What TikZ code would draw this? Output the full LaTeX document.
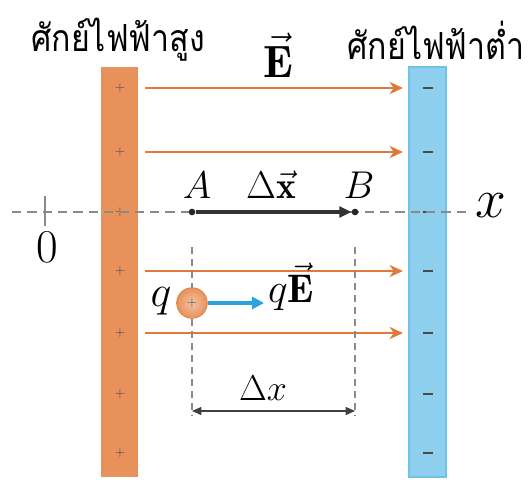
\documentclass[tikz,border=0pt]{standalone}
\usepackage{fontspec}
\newfontfamily\thaifont[Script=Thai,FakeStretch=0.86]{Loma}
\usetikzlibrary{arrows.meta,fit}
\newcommand\biglbl[2]{\scalebox{\fpeval{#1/20}}{\fontsize{20}{20}\selectfont$#2$}}
\definecolor{plateor}{HTML}{E8915A}
\definecolor{arrowor}{HTML}{E07A3A}
\definecolor{plateblue}{HTML}{8ECFEE}
\definecolor{plateblueedge}{HTML}{6EC3EA}
\definecolor{forceblue}{HTML}{2BA3DE}
\definecolor{axisgray}{HTML}{8A8A8A}
\definecolor{signgray}{HTML}{4A4A4A}
\tikzset{
  plate/.style={inner sep=0pt, outer sep=0pt},
  plussign/.style={text=signgray, font=\fontsize{10}{10}\selectfont, inner sep=0pt},
  minussign/.style={fill=signgray, minimum width=7pt, minimum height=1.8pt, inner sep=0pt},
  fieldarrow/.style={draw=arrowor, line width=2.2pt, -{Stealth[length=10pt,width=9pt,inset=3pt]}},
  axisline/.style={draw=axisgray, line width=1.2pt, dash pattern=on 7pt off 4.5pt},
  guide/.style={draw=axisgray, line width=0.9pt, dash pattern=on 5pt off 4pt},
  disparrow/.style={draw=black!80, line width=2.6pt, -{Triangle[length=9pt,width=8pt]}},
  spanarrow/.style={draw=black!75, line width=1pt, {Triangle[length=7pt,width=6pt]}-{Triangle[length=7pt,width=6pt]}},
  forcearrow/.style={draw=forceblue, line width=2.6pt, -{Triangle[length=9pt,width=9pt]}},
  thailabel/.style={font=\thaifont\fontsize{28}{32}\selectfont, inner sep=0pt},
  lab/.style={inner sep=0pt, anchor=base},
  dot/.style={circle, fill=black!85, minimum size=5pt, inner sep=0pt},
}
\begin{document}
\begin{tikzpicture}[x=0.75pt,y=-0.75pt]
\useasboundingbox (0,0) rectangle (528,479);
% plates
\node[plate, fill=plateor, fit={(101,67) (138,477)}] (lplate) {};
\node[plate, fill=plateblue, draw=plateblueedge, line width=1pt, fit={(409,67) (446,477)}] (rplate) {};
\foreach \y [count=\i] in {88,152,212,271,333,394,453} {
  \node[plussign] (p\i) at (120,\y) {+};
  \node[minussign] (m\i) at (428,\y) {};
}
% top labels
\node[thailabel] (high) at (118,40) {ศักย์ไฟฟ้าสูง};
\node[thailabel] (low) at (436,40) {ศักย์ไฟฟ้าต่ำ};
\node[lab] (Elab) at (278,77) {\biglbl{34}{\vec{\mathbf{E}}}};
% field arrows
\foreach \y/\n in {88/1,152/2,271/3,333/4} {
  \coordinate (fs\n) at (145,\y);
  \coordinate (fe\n) at (403,\y);
  \draw[fieldarrow] (fs\n) -- (fe\n);
}
% x axis
\coordinate (axl) at (12,212);
\coordinate (axr) at (472,212);
\draw[axisline] (axl) -- (axr);
\node[lab] (xlab) at (491,217) {\biglbl{40}{x}};
\coordinate (tickt) at (45,196);
\coordinate (tickb) at (45,226);
\draw[draw=axisgray, line width=1.2pt] (tickt) -- (tickb);
\node[lab] (zero) at (47,262) {\biglbl{34}{0}};
% A and B
\node[dot] (A) at (192,212) {};
\node[dot] (B) at (355,212) {};
\draw[disparrow] (A) -- (B.west);
\node[lab] (Alab) at (197,198) {\biglbl{28}{A}};
\node[lab] (Blab) at (359,198) {\biglbl{28}{B}};
\node[lab] (dxvec) at (271,198) {\biglbl{28}{\Delta\vec{\mathbf{x}}}};
% guides
\coordinate (ga1) at (192,247);
\coordinate (ga2) at (192,416);
\coordinate (gb1) at (355,247);
\coordinate (gb2) at (355,416);
\draw[guide] (ga1) -- (ga2);
\draw[guide] (gb1) -- (gb2);
% charge
\node[circle, minimum size=23pt, inner sep=0pt, inner color=plateor!55!white, outer color=plateor, draw=arrowor, line width=0.5pt] (q) at (192,303) {};
\node[plussign] (qplus) at (q) {+};
\coordinate (ftip) at (264,303);
\draw[forcearrow] (q.east) -- (ftip);
\node[lab] (qlab) at (161,306) {\biglbl{32}{q}};
\node[lab] (qElab) at (291,302) {\biglbl{30}{q\vec{\mathbf{E}}}};
% span
\coordinate (sa) at (192,411);
\coordinate (sb) at (355,411);
\draw[spanarrow] (sa) -- (sb);
\node[lab] (dxlab) at (263,400) {\biglbl{26}{\Delta x}};
\end{tikzpicture}
\end{document}
